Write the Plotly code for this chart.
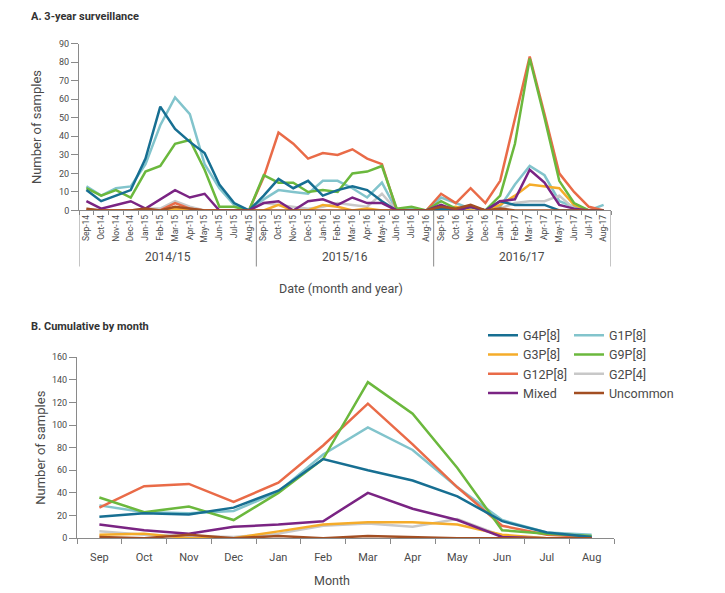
import plotly.graph_objects as go

# Month labels, panel A (Sep-14 .. Aug-17)
months_a = ['Sep-14', 'Oct-14', 'Nov-14', 'Dec-14', 'Jan-15', 'Feb-15', 'Mar-15', 'Apr-15',
            'May-15', 'Jun-15', 'Jul-15', 'Aug-15',
            'Sep-15', 'Oct-15', 'Nov-15', 'Dec-15', 'Jan-16', 'Feb-16', 'Mar-16', 'Apr-16',
            'May-16', 'Jun-16', 'Jul-16', 'Aug-16',
            'Sep-16', 'Oct-16', 'Nov-16', 'Dec-16', 'Jan-17', 'Feb-17', 'Mar-17', 'Apr-17',
            'May-17', 'Jun-17', 'Jul-17', 'Aug-17']
seasons = ['2014/15', '2015/16', '2016/17']
months_b = ['Sep', 'Oct', 'Nov', 'Dec', 'Jan', 'Feb', 'Mar', 'Apr', 'May', 'Jun', 'Jul', 'Aug']

# Panel A: monthly counts per genotype over 3 seasons
a_g4p8 = [11, 5, 8, 11, 28, 56, 44, 37, 31, 14, 4, 0,
          8, 17, 12, 16, 8, 11, 13, 11, 5, 0, 0, 0,
          1, 0, 2, 0, 5, 3, 3, 3, 0, 0, 0, 0]
a_g1p8 = [13, 8, 12, 13, 25, 46, 61, 52, 25, 12, 3, 0,
          6, 11, 10, 9, 16, 16, 12, 7, 15, 0, 1, 0,
          7, 4, 1, 0, 2, 14, 24, 19, 5, 2, 0, 3]
a_g3p8 = [0, 0, 0, 0, 0, 0, 1, 0, 0, 0, 0, 0,
          0, 3, 0, 0, 3, 2, 0, 1, 0, 0, 0, 0,
          1, 2, 0, 0, 3, 8, 14, 13, 12, 3, 0, 0]
a_g9p8 = [12, 8, 11, 7, 21, 24, 36, 38, 22, 2, 2, 0,
          19, 15, 15, 10, 11, 10, 20, 21, 24, 1, 2, 0,
          5, 1, 2, 0, 8, 36, 82, 50, 16, 4, 0, 0]
a_g12p8 = [0, 0, 0, 0, 0, 0, 4, 1, 0, 0, 0, 0,
           18, 42, 36, 28, 31, 30, 33, 28, 25, 0, 0, 0,
           9, 4, 12, 4, 16, 50, 83, 52, 20, 10, 2, 0]
a_g2p4 = [1, 0, 0, 0, 1, 1, 5, 2, 0, 0, 0, 0,
          4, 3, 2, 1, 2, 4, 3, 2, 9, 0, 0, 0,
          2, 1, 1, 0, 1, 4, 5, 5, 8, 1, 0, 0]
a_mixed = [5, 1, 3, 5, 1, 6, 11, 7, 9, 0, 0, 0,
           4, 5, 0, 5, 6, 3, 7, 4, 4, 0, 0, 0,
           3, 0, 2, 0, 5, 6, 22, 15, 3, 1, 0, 0]
a_uncommon = [1, 0, 0, 0, 1, 0, 2, 1, 0, 0, 0, 0,
              0, 0, 0, 0, 0, 0, 0, 0, 0, 0, 0, 0,
              2, 1, 3, 0, 1, 0, 0, 0, 0, 0, 0, 0]

# Panel B: cumulative by calendar month
b_g4p8 = [19, 22, 21, 27, 42, 70, 60, 51, 37, 15, 5, 1]
b_g1p8 = [29, 23, 22, 24, 41, 74, 98, 78, 45, 16, 5, 3]
b_g3p8 = [3, 4, 0, 0, 6, 12, 14, 14, 12, 3, 0, 0]
b_g9p8 = [36, 23, 28, 16, 40, 70, 138, 110, 62, 7, 4, 2]
b_g12p8 = [27, 46, 48, 32, 49, 82, 119, 83, 45, 11, 3, 1]
b_g2p4 = [6, 3, 2, 1, 4, 11, 13, 10, 17, 2, 0, 0]
b_mixed = [12, 7, 4, 10, 12, 15, 40, 26, 16, 1, 0, 0]
b_uncommon = [1, 0, 3, 0, 2, 0, 2, 1, 0, 0, 0, 0]

# (name, colour, panel A, panel B, legend column, rank) in drawing order
series = [
    ('G1P[8]', '#82c4cc', a_g1p8, b_g1p8, 'legend2', 1),
    ('G2P[4]', '#c8c8c8', a_g2p4, b_g2p4, 'legend2', 3),
    ('G3P[8]', '#f5ac2a', a_g3p8, b_g3p8, 'legend', 2),
    ('G12P[8]', '#e96b48', a_g12p8, b_g12p8, 'legend', 3),
    ('G9P[8]', '#6bb83d', a_g9p8, b_g9p8, 'legend2', 2),
    ('G4P[8]', '#176f92', a_g4p8, b_g4p8, 'legend', 1),
    ('Mixed', '#7a2483', a_mixed, b_mixed, 'legend', 4),
    ('Uncommon', '#a24e22', a_uncommon, b_uncommon, 'legend2', 4),
]

W, H = 725, 593
AXIS = '#8a8a8a'
TXT = '#4a4a4a'
FONT = 'Roboto'

fig = go.Figure()
for name, color, ya, yb, leg, rank in series:
    fig.add_trace(go.Scatter(
        x=months_a, y=ya, mode='lines', name=name,
        line=dict(color=color, width=2.5),
        showlegend=False, xaxis='x', yaxis='y'
    ))
    fig.add_trace(go.Scatter(
        x=months_b, y=yb, mode='lines', name=name,
        line=dict(color=color, width=2.5),
        legend=leg, legendrank=rank, xaxis='x2', yaxis='y2'
    ))


def px_x(p):
    return p / W


def px_y(p):
    return 1 - p / H


# Season separators and labels under panel A
shapes = []
for xv in [-0.5, 11.5, 23.5, 35.5]:
    shapes.append(dict(type='line', xref='x', yref='paper', x0=xv, x1=xv,
                       y0=px_y(209), y1=px_y(266), line=dict(color=AXIS, width=1)))

annotations = []
for i, s in enumerate(seasons):
    annotations.append(dict(text=s, x=5.5 + 12 * i, xref='x', y=px_y(256), yref='paper',
                            yanchor='middle', showarrow=False,
                            font=dict(size=12, color=TXT, family=FONT)))

annotations += [
    dict(text='<b>A. 3-year surveillance</b>', x=px_x(29), y=px_y(12), xref='paper', yref='paper',
         xanchor='left', yanchor='middle', showarrow=False,
         font=dict(size=11, color='#333333', family=FONT)),
    dict(text='<b>B. Cumulative by month</b>', x=px_x(29), y=px_y(327), xref='paper', yref='paper',
         xanchor='left', yanchor='middle', showarrow=False,
         font=dict(size=11, color='#333333', family=FONT)),
    dict(text='Date (month and year)', x=px_x(341), y=px_y(288), xref='paper', yref='paper',
         yanchor='middle', showarrow=False, font=dict(size=12.5, color=TXT, family=FONT)),
    dict(text='Month', x=px_x(332), y=px_y(585), xref='paper', yref='paper',
         yanchor='middle', showarrow=False, font=dict(size=12.5, color=TXT, family=FONT)),
]

axis_common = dict(showline=True, linecolor=AXIS, linewidth=1, showgrid=False, zeroline=False,
                   ticks='outside', tickcolor=AXIS)

fig.update_layout(
    width=W, height=H,
    margin=dict(l=0, r=0, t=0, b=0),
    plot_bgcolor='white', paper_bgcolor='white',
    font=dict(family=FONT, color=TXT),
    xaxis=dict(**axis_common, type='category', domain=[px_x(79), px_x(611)],
               range=[-0.5, 35.5], tickson='boundaries', tickangle=-90, ticklen=4,
               anchor='y', tickfont=dict(size=8.5, color=TXT, family=FONT)),
    yaxis=dict(**axis_common,
               domain=[px_y(209), px_y(39.3)], range=[0, 90], dtick=10, anchor='x',
               ticklen=7, tickfont=dict(size=9, color=TXT, family=FONT),
               title=dict(text='Number of samples', standoff=14,
                          font=dict(size=13, color=TXT, family=FONT))),
    xaxis2=dict(**axis_common,
                type='category', domain=[px_x(77), px_x(614)],
                range=[-0.5, 11.5], tickson='boundaries', anchor='y2', ticklen=5,
                ticklabelstandoff=9,
                tickfont=dict(size=11, color=TXT, family=FONT)),
    yaxis2=dict(**axis_common,
                domain=[px_y(542.3), px_y(358.3)], range=[0, 160], dtick=20, anchor='x2',
                ticklen=7, tickfont=dict(size=9, color=TXT, family=FONT),
                title=dict(text='Number of samples', standoff=3,
                           font=dict(size=13, color=TXT, family=FONT))),
    legend=dict(x=px_x(483), y=px_y(321), xanchor='left', yanchor='top',
                bgcolor='rgba(0,0,0,0)', font=dict(size=12.5, color=TXT, family=FONT),
                tracegroupgap=0),
    legend2=dict(x=px_x(569), y=px_y(321), xanchor='left', yanchor='top',
                 bgcolor='rgba(0,0,0,0)', font=dict(size=12.5, color=TXT, family=FONT),
                 tracegroupgap=0),
    shapes=shapes,
    annotations=annotations,
)

# drop the default 8px page margin so the figure sits at the window origin
fig.write_html("out.html", config={'displayModeBar': False},
               post_script="document.body.style.margin='0';")
